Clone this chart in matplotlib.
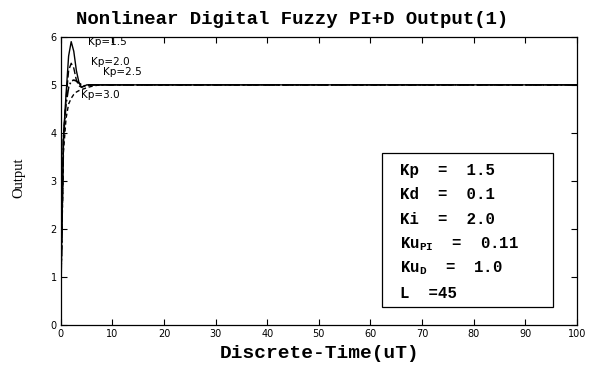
import matplotlib
matplotlib.use("Agg")
import matplotlib.pyplot as plt

# discrete time samples and outputs
t = [0, 0.5, 1.0, 1.5, 2.0, 2.5, 3.0, 3.5, 4.0, 4.5, 5.0, 6.0, 7.0, 8.0, 10.0, 100.0]
y_kp15 = [0.7, 3.9, 4.8, 5.6, 5.9, 5.7, 5.3, 5.05, 4.95, 4.97, 5.0, 5.0, 5.0, 5.0, 5.0, 5.0]
y_kp20 = [0.7, 3.9, 4.7, 5.3, 5.45, 5.35, 5.1, 4.98, 4.95, 4.98, 5.0, 5.0, 5.0, 5.0, 5.0, 5.0]
y_kp25 = [0.7, 3.9, 4.6, 4.95, 5.08, 5.1, 5.08, 5.04, 5.0, 4.98, 4.98, 5.0, 5.0, 5.0, 5.0, 5.0]
y_kp30 = [0.7, 3.6, 4.3, 4.6, 4.72, 4.8, 4.85, 4.88, 4.9, 4.92, 4.94, 4.97, 4.99, 5.0, 5.0, 5.0]

curve_labels = ["Kp=1.5", "Kp=2.0", "Kp=2.5", "Kp=3.0"]
label_pos = [(5.2, 5.9), (5.8, 5.48), (8.1, 5.27), (3.9, 4.79)]

params = ["Kp  =  1.5", "Kd  =  0.1", "Ki  =  2.0",
          r"Ku$_{\mathregular{PI}}$  =  0.11", r"Ku$_{\mathregular{D}}$  =  1.0", "L  =45"]

fig = plt.figure(figsize=(5.91, 3.65), dpi=100)
ax = fig.add_axes([0.103, 0.110, 0.873, 0.789])

ax.plot(t, y_kp15, color="black", lw=1.0, ls="-")
ax.plot(t, y_kp20, color="black", lw=1.0, ls=(0, (5, 2)))
ax.plot(t, y_kp25, color="black", lw=1.2, ls="-.")
ax.plot(t, y_kp30, color="black", lw=1.0, ls=(0, (3, 2)))

for lab, (x, y) in zip(curve_labels, label_pos):
    ax.text(x, y, lab, fontsize=7.5, va="center", ha="left", family="DejaVu Sans")

ax.set_xlim(0, 100)
ax.set_ylim(0, 6)
ax.set_xticks(range(0, 101, 10))
ax.set_yticks(range(0, 7))
ax.tick_params(direction="in", top=True, right=True, length=4, width=0.8,
               labelsize=7, pad=3)
for s in ax.spines.values():
    s.set_linewidth(0.9)

# title sits a bit left of the axes centre in the original
fig.text(292 / 591, 1 - 20 / 365, "Nonlinear Digital Fuzzy PI+D Output(1)",
         family="Liberation Mono", fontweight="bold", fontsize=13.7,
         ha="center", va="center")
fig.text(320 / 591, 1 - 353 / 365, "Discrete-Time(uT)", family="Liberation Mono",
         fontweight="bold", fontsize=14, ha="center", va="center")
fig.text(19 / 591, 1 - 178 / 365, "Output", family="Liberation Serif", fontsize=10.5,
         rotation=90, ha="center", va="center")

# parameter box
box = plt.Rectangle((382 / 591, 1 - 307 / 365), (553 - 382) / 591, (307 - 153) / 365,
                    transform=fig.transFigure, fill=True, facecolor="white",
                    edgecolor="black", lw=0.9, zorder=5)
fig.add_artist(box)
for i, p in enumerate(params):
    fig.text(400 / 591, 1 - (170 + 24.6 * i) / 365, p, family="Liberation Mono",
             fontweight="bold", fontsize=11.3, va="center", ha="left", zorder=6)

fig.savefig("out.png", dpi=100)
